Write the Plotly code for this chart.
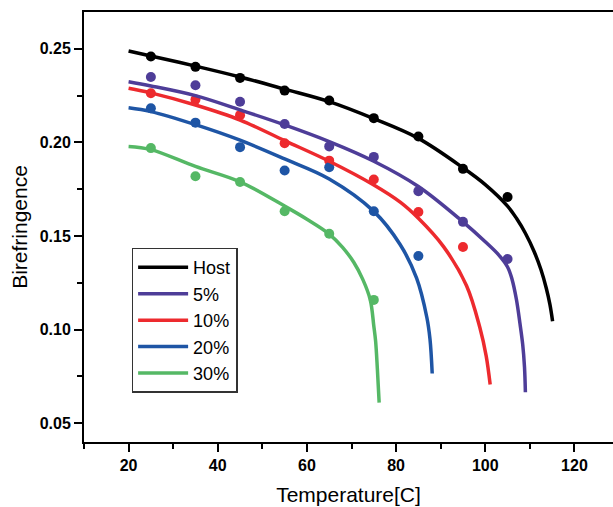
import plotly.graph_objects as go

# ---- data ----
temp_points = [25, 35, 45, 55, 65, 75, 85, 95, 105]

host_pts = [0.2459, 0.2404, 0.2345, 0.2277, 0.2224, 0.2130, 0.2032, 0.1859, 0.1709]
p5_pts   = [0.2350, 0.2306, 0.2218, 0.2099, 0.1979, 0.1923, 0.1740, 0.1576, 0.1378]
p10_pts  = [0.2263, 0.2229, 0.2146, 0.1996, 0.1903, 0.1802, 0.1629, 0.1442]
p20_pts  = [0.2183, 0.2106, 0.1975, 0.1850, 0.1868, 0.1633, 0.1394]
p30_pts  = [0.1970, 0.1820, 0.1789, 0.1633, 0.1512, 0.1159]

host_fit_t = [20, 25, 35, 45, 55, 65, 75, 85, 95, 100, 105, 107, 109, 111, 112.5, 113.7, 114.5, 115.1]
host_fit_v = [0.2489, 0.2462, 0.2408, 0.2350, 0.2285, 0.2218, 0.2127, 0.2022, 0.1865, 0.1775,
              0.1660, 0.1595, 0.1515, 0.1415, 0.1320, 0.1220, 0.1135, 0.1045]

p5_fit_t = [20, 25, 35, 45, 55, 65, 75, 85, 95, 100, 103, 105, 106, 107, 107.8, 108.4, 108.8, 109]
p5_fit_v = [0.2324, 0.2302, 0.2250, 0.2174, 0.2094, 0.2005, 0.1900, 0.1765, 0.1576, 0.1470,
            0.1400, 0.1335, 0.1270, 0.1160, 0.1030, 0.0920, 0.0800, 0.0666]

p10_fit_t = [20, 25, 35, 45, 55, 65, 75, 81, 85, 90.6, 95.8, 98.8, 100.2, 101.1]
p10_fit_v = [0.2290, 0.2265, 0.2200, 0.2120, 0.2010, 0.1900, 0.1773, 0.1680, 0.1595, 0.1445,
             0.1235, 0.1010, 0.0860, 0.0707]

p20_fit_t = [20, 25, 35, 45, 55, 65, 75, 80.9, 84.6, 86.9, 87.6, 88.1]
p20_fit_v = [0.2185, 0.2165, 0.2095, 0.2012, 0.1912, 0.1805, 0.1632, 0.1455, 0.1275, 0.1065,
             0.0950, 0.0766]

p30_fit_t = [20, 25, 35, 45, 55, 60, 65, 68, 70.5, 72.5, 74.2, 75.0, 75.4, 75.8, 76.2]
p30_fit_v = [0.1979, 0.1962, 0.1872, 0.1790, 0.1660, 0.1590, 0.1511, 0.1440, 0.1360, 0.1270,
             0.1160, 0.1020, 0.0940, 0.0790, 0.0610]

names = ["Host", "5%", "10%", "20%", "30%"]
colors = ["#000000", "#4E3D98", "#ED2A2E", "#1E55A5", "#55B865"]

FONT = "Liberation Sans"

fig = go.Figure()

fits = [(host_fit_t, host_fit_v), (p5_fit_t, p5_fit_v), (p10_fit_t, p10_fit_v),
        (p20_fit_t, p20_fit_v), (p30_fit_t, p30_fit_v)]
pts = [host_pts, p5_pts, p10_pts, p20_pts, p30_pts]

for name, col, (ft, fv), pv in zip(names, colors, fits, pts):
    fig.add_trace(go.Scatter(x=temp_points[:len(pv)], y=pv, mode="markers",
                             marker=dict(color=col, size=10, line=dict(width=0)),
                             showlegend=False, hoverinfo="skip"))
for name, col, (ft, fv), pv in zip(names, colors, fits, pts):
    fig.add_trace(go.Scatter(x=ft, y=fv, mode="lines", name=name,
                             line=dict(color=col, width=3.5, shape="spline", smoothing=1.0)))

fig.update_layout(
    width=613, height=507,
    margin=dict(l=84, r=0, t=12, b=65),
    paper_bgcolor="white", plot_bgcolor="white",
    font=dict(family=FONT, color="#000000"),
    showlegend=True,
    legend=dict(x=0.09, y=0.452, xanchor="left", yanchor="top",
                bordercolor="#333333", borderwidth=1.5, bgcolor="white",
                font=dict(size=18, family=FONT, color="#000000"),
                tracegroupgap=0, itemwidth=50),
    xaxis=dict(range=[10, 128.65], dtick=20, tick0=0,
               showgrid=False, zeroline=False,
               showline=True, linecolor="#000000", linewidth=2, mirror=True,
               ticks="outside", ticklen=8, tickwidth=2, tickcolor="#000000",
               tickfont=dict(size=16, family=FONT, weight="bold"),
               minor=dict(dtick=10, ticks="outside", ticklen=5, tickwidth=2, tickcolor="#000000"),
               title=dict(text="Temperature[C]", font=dict(size=21, family=FONT), standoff=14)),
    yaxis=dict(range=[0.04, 0.2697], dtick=0.05, tick0=0, tickformat=".2f",
               showgrid=False, zeroline=False,
               showline=True, linecolor="#000000", linewidth=2, mirror=False,
               ticks="outside", ticklen=8, tickwidth=2, tickcolor="#000000",
               tickfont=dict(size=16, family=FONT, weight="bold"),
               minor=dict(dtick=0.025, ticks="outside", ticklen=5, tickwidth=2, tickcolor="#000000"),
               title=dict(text="Birefringence", font=dict(size=21, family=FONT), standoff=6)),
)

fig.write_html("out.html")
